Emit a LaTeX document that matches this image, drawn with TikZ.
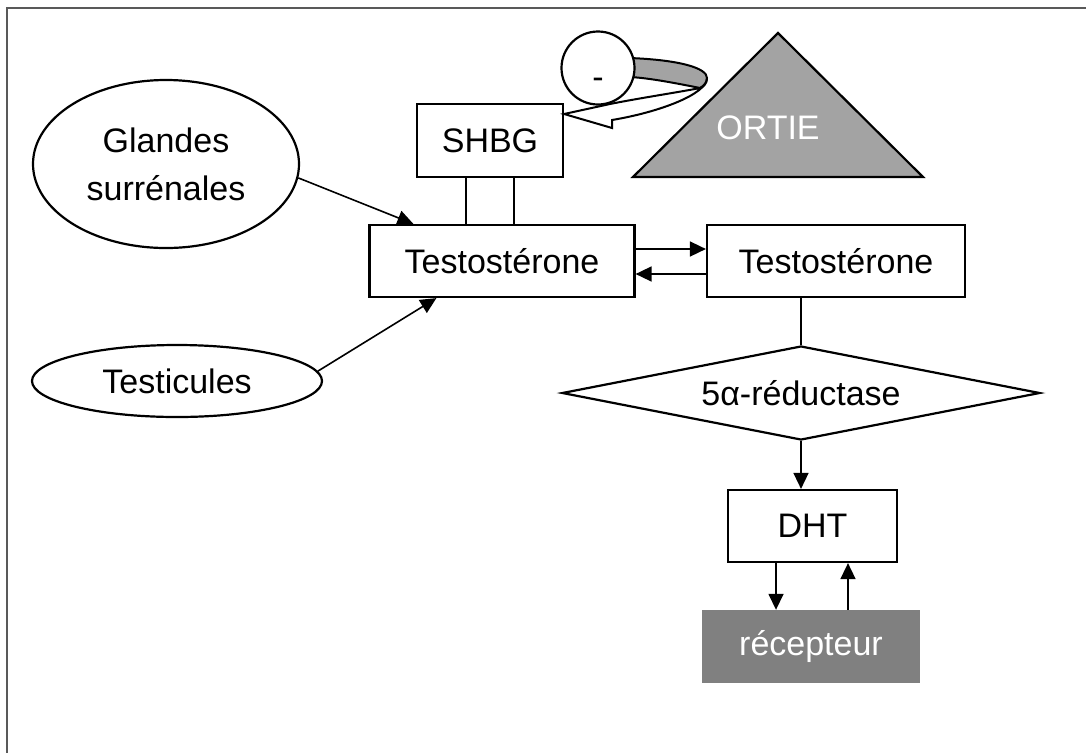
\documentclass[tikz,border=0pt]{standalone}
\usepackage{fontspec}
\setmainfont{Liberation Sans}
\usetikzlibrary{shapes.geometric,arrows.meta}
\definecolor{lightdither}{gray}{0.64}
\definecolor{darkdither}{gray}{0.50}
\definecolor{framegray}{gray}{0.35}
\begin{document}
\begin{tikzpicture}[x=1pt,y=-1pt,
  box/.style={draw,line width=2.2pt,fill=white,inner sep=0pt},
  ell/.style={draw,ellipse,line width=2.2pt,inner sep=0pt},
  arr/.style={line width=1.6pt,-{Triangle[length=16pt,width=15pt]}},
  lnk/.style={line width=2.2pt},
  txt/.style={font=\fontsize{34}{48}\selectfont}]
\useasboundingbox (0,0) rectangle (1086,753);
% frame
\draw[framegray,line width=1.5pt] (1086,8) -- (7,8) -- (7,753);

% nodes
\node[ell,minimum width=266pt,minimum height=168pt,txt,align=center] (gl) at (166,164) {Glandes\\surrénales};
\node[ell,minimum width=290pt,minimum height=72pt,txt] (te) at (177,381) {Testicules};
\node[box,minimum width=265pt,minimum height=72pt,txt] (t1) at (502,261) {Testostérone};
\node[box,minimum width=258pt,minimum height=72pt,txt] (t2) at (836,261) {Testostérone};
\node[box,minimum width=146pt,minimum height=73pt,txt] (shbg) at (490,140.5) {SHBG};
\node[draw,diamond,line width=2.2pt,minimum width=478pt,minimum height=94pt,aspect=5.09,inner sep=0pt,txt] (red) at (801,393) {5α-réductase};
\node[box,minimum width=169pt,minimum height=72pt,txt] (dht) at (812.5,526) {DHT};
\node[fill=darkdither,minimum width=218pt,minimum height=73pt,inner sep=0pt,txt,text=white] (rec) at (811,646.5) {récepteur};

% ORTIE triangle
\coordinate (oa) at (778,33);
\coordinate (ob) at (633,177);
\coordinate (oc) at (923,177);
\draw[fill=lightdither,line width=2.2pt,line join=miter] (oa) -- (ob) -- (oc) -- cycle;
\node[txt,text=white] (ortie) at (768,128) {ORTIE};

% ribbon arrow (back part)
\draw[fill=lightdither,line width=2pt]
  (630,58) .. controls (680,60) and (707,68) .. (707,78)
  .. controls (707,84) and (703,87) .. (700,88)
  .. controls (680,84) and (650,78) .. (630,77) -- cycle;
% ribbon arrow (front part)
\draw[fill=white,line width=2pt,line join=miter]
  (707,78) .. controls (707,94) and (660,112) .. (612,120)
  -- (612,128) -- (shbg.east |- 0,114) -- (610,104)
  .. controls (640,98) and (680,92) .. (700,88)
  .. controls (704,86) and (707,82) .. (707,78) -- cycle;
% inhibition circle
\node[draw,circle,line width=2.2pt,minimum size=73pt,fill=white,inner sep=0pt] (neg) at (598,68) {};
\node[txt,inner sep=0pt] (negsign) at (598,83) {-};

% connectors
\draw[arr] (gl.-6) -- ([xshift=45pt]t1.north west);
\draw[arr] (te.4) -- ([xshift=68pt]t1.south west);
\draw[lnk] ([xshift=-24pt]shbg.south) -- ([xshift=-24pt]shbg.south |- t1.north);
\draw[lnk] ([xshift=24pt]shbg.south) -- ([xshift=24pt]shbg.south |- t1.north);
\draw[arr] ([yshift=12pt]t1.east) -- ([yshift=12pt]t2.west);
\draw[arr] ([yshift=-13pt]t2.west) -- ([yshift=-13pt]t1.east);
\draw[lnk] (red.north |- t2.south) -- (red.north);
\draw[arr] (red.south) -- (red.south |- dht.north);
\draw[arr] ([xshift=-36.5pt]dht.south) -- ([xshift=-36.5pt]dht.south |- rec.north);
\draw[arr] ([xshift=35.5pt]dht.south |- rec.north) -- ([xshift=35.5pt]dht.south);
\end{tikzpicture}
\end{document}
